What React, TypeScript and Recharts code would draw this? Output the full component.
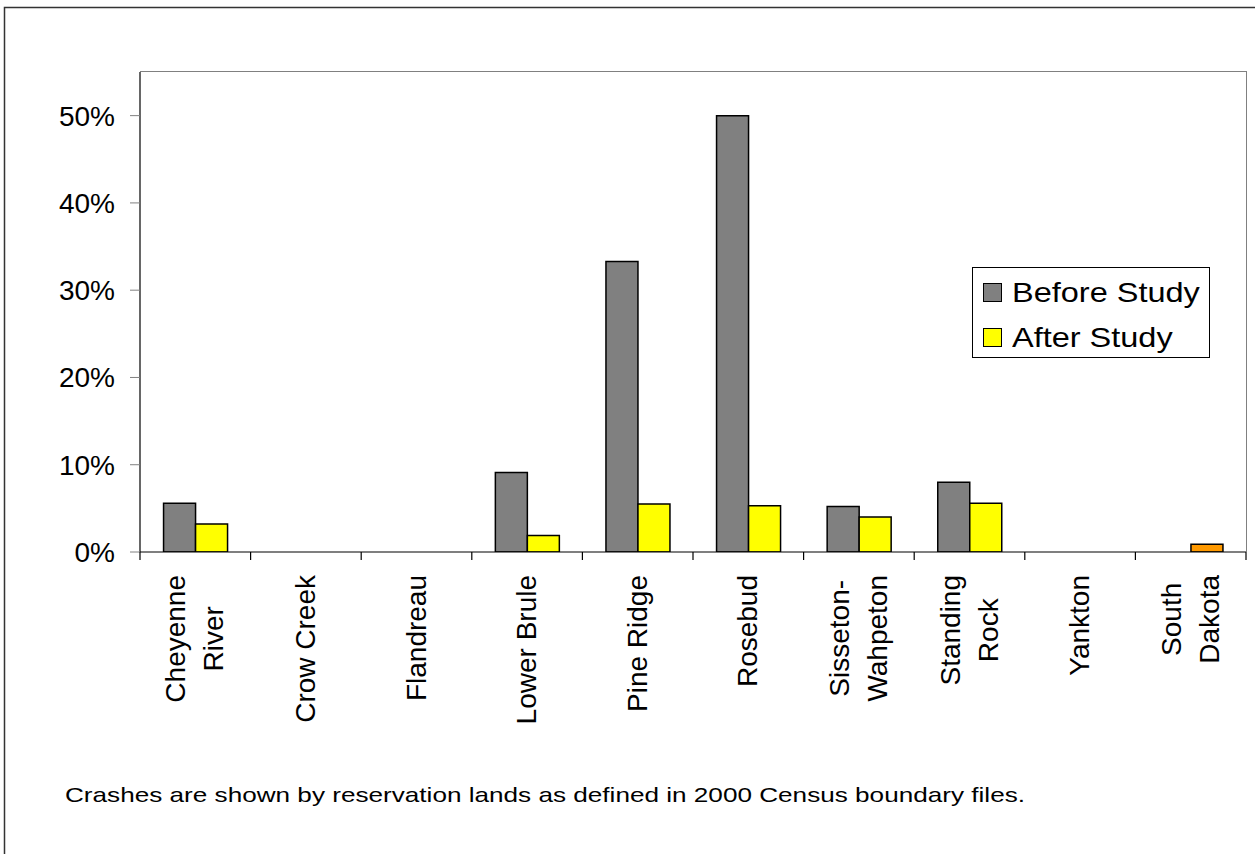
import { BarChart, Bar, XAxis, YAxis, Legend, Cell } from 'recharts'

// crash share by reservation, in percent
const reservations = [
  'Cheyenne River',
  'Crow Creek',
  'Flandreau',
  'Lower Brule',
  'Pine Ridge',
  'Rosebud',
  'Sisseton-Wahpeton',
  'Standing Rock',
  'Yankton',
  'South Dakota',
]
const tickLines = [
  ['Cheyenne', 'River'],
  ['Crow Creek'],
  ['Flandreau'],
  ['Lower Brule'],
  ['Pine Ridge'],
  ['Rosebud'],
  ['Sisseton-', 'Wahpeton'],
  ['Standing', 'Rock'],
  ['Yankton'],
  ['South', 'Dakota'],
]
const beforeStudy = [5.6, null, null, 9.1, 33.3, 50.0, 5.2, 8.0, null, null]
const afterStudy = [3.2, null, null, 1.9, 5.5, 5.3, 4.0, 5.6, null, 0.9]
const yTicks = [0, 10, 20, 30, 40, 50]
const seriesOrder = ['before', 'after']
const caption = 'Crashes are shown by reservation lands as defined in 2000 Census boundary files.'

const data = reservations.map((name, i) => ({ name, before: beforeStudy[i], after: afterStudy[i] }))

const W = 1255
const H = 854
const PLOT_L = 140
const PLOT_T = 72
const PLOT_R = 1246
const PLOT_B = 552
const BAND = (PLOT_R - PLOT_L) / reservations.length
const FONT = 'Arial, "Liberation Sans", sans-serif'
const LABEL_SIZE = 28

const measureCtx = document.createElement('canvas').getContext('2d')
function textWidth(s: string) {
  if (!measureCtx) return s.length * LABEL_SIZE * 0.5
  measureCtx.font = `${LABEL_SIZE}px ${FONT}`
  return measureCtx.measureText(s).width
}

// rotated category label, plus tick marks on the band edges
function CategoryTick(props: any) {
  const { x, y, index, payload } = props
  const lines = tickLines[index] ?? [String(payload.value)]
  const span = Math.max(...lines.map(textWidth))
  const yc = y + 23 + span / 2
  const n = lines.length
  return (
    <g>
      <line x1={x - BAND / 2} x2={x - BAND / 2} y1={y} y2={y + 8} stroke="#000" strokeWidth={1.2} />
      {index === reservations.length - 1 && (
        <line x1={x + BAND / 2} x2={x + BAND / 2} y1={y} y2={y + 8} stroke="#000" strokeWidth={1.2} />
      )}
      {lines.map((line, i) => {
        const bx = x + (i - (n - 1) / 2) * 38 + 9
        return (
          <text
            key={line}
            transform={`translate(${bx},${yc}) rotate(-90)`}
            textAnchor="middle"
            fontSize={LABEL_SIZE}
            fontFamily={FONT}
            fill="#000"
          >
            {line}
          </text>
        )
      })}
    </g>
  )
}

function LegendBox(props: any) {
  const items = [...(props.payload ?? [])].sort(
    (a: any, b: any) => seriesOrder.indexOf(a.dataKey) - seriesOrder.indexOf(b.dataKey),
  )
  return (
    <div
      style={{
        width: 236,
        height: 89,
        border: '1px solid #000',
        background: '#fff',
        boxSizing: 'content-box',
        fontFamily: FONT,
        fontSize: 28,
        color: '#000',
      }}
    >
      {items.map((it: any, i: number) => (
        <div key={it.value} style={{ position: 'relative', height: 45, marginTop: i === 0 ? 2 : 0 }}>
          <span
            style={{
              position: 'absolute',
              left: 10,
              top: 13,
              width: 17,
              height: 17,
              background: it.color,
              border: '1px solid #000',
            }}
          />
          <span
            style={{
              position: 'absolute',
              left: 39,
              top: 7,
              lineHeight: '32px',
              whiteSpace: 'nowrap',
              transform: 'scaleX(1.16)',
              transformOrigin: 'left center',
            }}
          >
            {it.value}
          </span>
        </div>
      ))}
    </div>
  )
}

export default function App() {
  return (
    <div style={{ position: 'absolute', left: 0, top: 0, width: W, height: H, overflow: 'hidden', background: '#fff' }}>
      <svg width={W} height={H} style={{ position: 'absolute', left: 0, top: 0 }}>
        <rect x={4.5} y={7.5} width={W + 50} height={H + 50} fill="none" stroke="#333" strokeWidth={1.5} />
        <text x={65} y={802} fontSize={21} fontFamily={FONT} fill="#000" textLength={960} lengthAdjust="spacingAndGlyphs">
          {caption}
        </text>
      </svg>
      <div style={{ position: 'absolute', left: 0, top: 0 }}>
        <BarChart
          width={W}
          height={H}
          data={data}
          margin={{ top: PLOT_T, right: W - PLOT_R, bottom: H - PLOT_B - 200, left: PLOT_L - 130 }}
          barCategoryGap="21.3%"
          barGap={0}
        >
          <XAxis
            dataKey="name"
            height={200}
            interval={0}
            tickSize={0}
            tickMargin={0}
            tickLine={false}
            axisLine={{ stroke: '#000', strokeWidth: 1.2 }}
            tick={<CategoryTick />}
          />
          <YAxis
            width={130}
            domain={[0, 55]}
            ticks={yTicks}
            allowDataOverflow
            tickFormatter={(v: number) => `${v}%`}
            tickSize={10}
            tickMargin={15}
            tickLine={{ stroke: '#808080' }}
            axisLine={{ stroke: '#000', strokeWidth: 1.2 }}
            tick={{ fill: '#000', fontSize: LABEL_SIZE, fontFamily: FONT }}
          />
          <Legend
            layout="horizontal"
            verticalAlign="middle"
            align="center"
            wrapperStyle={{ left: 972, top: 267, width: 238, right: 'auto', bottom: 'auto' }}
            content={<LegendBox />}
          />
          <Bar dataKey="before" name="Before Study" fill="#808080" stroke="#000" strokeWidth={1.5} isAnimationActive={false} />
          <Bar dataKey="after" name="After Study" fill="#FFFF00" stroke="#000" strokeWidth={1.5} isAnimationActive={false}>
            {data.map((d) => (
              <Cell key={d.name} fill={d.name === 'South Dakota' ? '#FF9900' : '#FFFF00'} />
            ))}
          </Bar>
        </BarChart>
      </div>
      <div
        style={{
          position: 'absolute',
          left: PLOT_L,
          top: PLOT_T - 1,
          width: PLOT_R - PLOT_L,
          height: PLOT_B - PLOT_T,
          borderTop: '1.5px solid #808080',
          borderRight: '1.5px solid #808080',
          pointerEvents: 'none',
        }}
      />
    </div>
  )
}
